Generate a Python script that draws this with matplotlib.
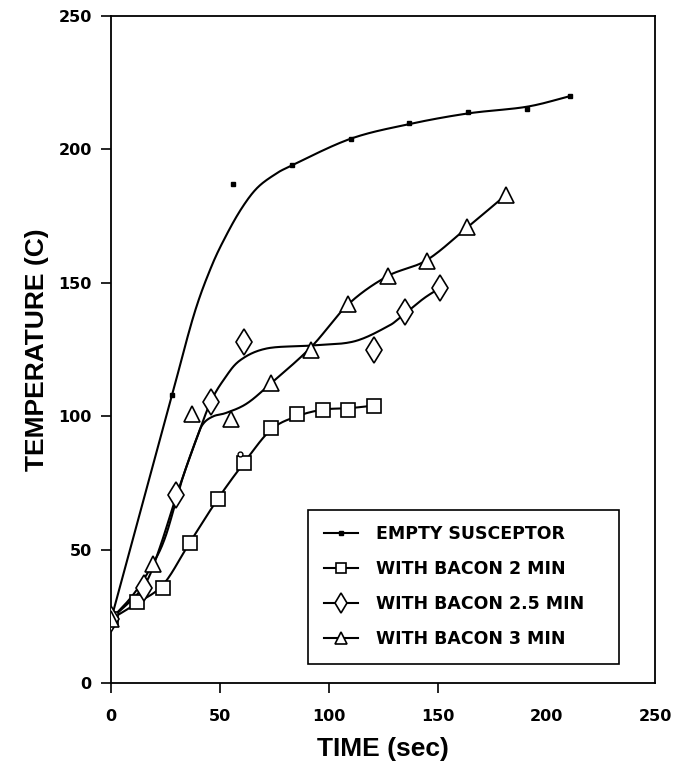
"""
Susceptor temperature vs heating time, empty and with bacon loads.
Markers are the measured points; the smooth lines are the hand-fitted curves.
"""
import numpy as np
import matplotlib
matplotlib.use('Agg')
import matplotlib.pyplot as plt

# measured points (time s, temperature C)
empty_t = [0, 28, 56, 83, 110, 137, 164, 191, 211]
empty_T = [24, 108, 187, 194, 204, 210, 214, 215, 220]
bacon2_t = [0, 12, 24, 36, 49, 61, 73.5, 85.5, 97.5, 109, 121]
bacon2_T = [24, 30.5, 35.5, 52.5, 69, 82.5, 95.5, 101, 102.5, 102.5, 104]
bacon25_t = [0, 15, 30, 46, 61, 121, 135, 151]
bacon25_T = [24, 35.5, 70.5, 105.5, 128, 125, 139, 148]
bacon3_t = [0, 19, 37, 55, 73.5, 92, 109, 127, 145, 163.5, 181.5]
bacon3_T = [24, 44.5, 101, 99, 112.5, 125, 142, 152.5, 158, 171, 183]
stray_t = [59]
stray_T = [86]

# fitted curves
empty_fit_t = [0, 18, 28, 38, 46, 53, 60, 67, 75, 83, 110, 137, 164, 191, 211]
empty_fit_T = [24, 78, 108, 138, 156, 168, 178, 185.5, 190.5, 194, 204, 209.5, 213.5, 216, 220]
bacon2_fit_t = bacon2_t
bacon2_fit_T = [24, 30, 37, 52.5, 69, 82.5, 95, 100, 102.5, 103, 104]
bacon25_fit_t = [0, 14.7, 22, 30.3, 39.4, 45.8, 52, 59.3, 71.5, 91.8, 111.4, 126.7, 132.8, 143.4, 151]
bacon25_fit_T = [24, 36, 50, 71, 92, 105.5, 114, 121, 125.4, 126.5, 128, 133.5, 137, 144, 148]
bacon3_fit_t = [0, 10, 18.7, 25, 32.5, 39.4, 42.4, 47, 53, 62.4, 73.4, 92, 109, 127, 145, 164, 181.5]
bacon3_fit_T = [24, 33, 44, 55, 76, 92, 97.3, 100, 101.3, 104.8, 112.3, 126, 142, 152.5, 158.5, 171, 183]

labels = ['EMPTY SUSCEPTOR', 'WITH BACON 2 MIN', 'WITH BACON 2.5 MIN', 'WITH BACON 3 MIN']
xticks = [0, 50, 100, 150, 200, 250]
yticks = [0, 50, 100, 150, 200, 250]


def smooth(xs, ys, n=24):
    # Catmull-Rom through the traced curve points, for drawing only
    p = np.column_stack([xs, ys]).astype(float)
    p = np.vstack([2 * p[0] - p[1], p, 2 * p[-1] - p[-2]])
    t = np.linspace(0, 1, n)[:, None]
    out = []
    for i in range(1, len(p) - 2):
        p0, p1, p2, p3 = p[i - 1], p[i], p[i + 1], p[i + 2]
        seg = 0.5 * ((2 * p1) + (-p0 + p2) * t + (2 * p0 - 5 * p1 + 4 * p2 - p3) * t ** 2
                     + (-p0 + 3 * p1 - 3 * p2 + p3) * t ** 3)
        out.append(seg if i == 1 else seg[1:])
    out = np.vstack(out)
    return out[:, 0], out[:, 1]


fig = plt.figure(figsize=(6.74, 7.64), dpi=100)
ax = fig.add_axes([0.165, 0.106, 0.807, 0.873])

lw = 1.5
mk = dict(color='black', markerfacecolor='white', markeredgecolor='black',
          markeredgewidth=1.2, linestyle='none', zorder=3)

ax.plot(*smooth(empty_fit_t, empty_fit_T), color='black', lw=lw)
ax.plot(*smooth(bacon2_fit_t, bacon2_fit_T), color='black', lw=lw)
ax.plot(*smooth(bacon25_fit_t, bacon25_fit_T), color='black', lw=lw)
ax.plot(*smooth(bacon3_fit_t, bacon3_fit_T), color='black', lw=lw)

ax.plot(empty_t, empty_T, marker='s', markersize=3.2, color='black', linestyle='none', zorder=3)
ax.plot(bacon2_t, bacon2_T, marker='s', markersize=10, **mk)
ax.plot(bacon25_t, bacon25_T, marker='d', markersize=13, **mk)
ax.plot(bacon3_t, bacon3_T, marker='^', markersize=11.5, **mk)
ax.plot(stray_t, stray_T, marker='o', markersize=3.5, color='black',
        markerfacecolor='white', linestyle='none', zorder=3)

# legend handles
h = [
    plt.Line2D([], [], color='black', lw=lw, marker='s', markersize=3.2),
    plt.Line2D([], [], color='black', lw=lw, marker='s', markersize=7.5,
               markerfacecolor='white', markeredgewidth=1.2),
    plt.Line2D([], [], color='black', lw=lw, marker='d', markersize=10,
               markerfacecolor='white', markeredgewidth=1.2),
    plt.Line2D([], [], color='black', lw=lw, marker='^', markersize=8.5,
               markerfacecolor='white', markeredgewidth=1.2),
]
leg = ax.legend(h, labels, loc='lower left', bbox_to_anchor=(0.362, 0.0285, 0.572, 0.24),
                mode='expand', frameon=True, fancybox=False, edgecolor='black',
                framealpha=1, handlelength=2.0, handletextpad=1.0, labelspacing=0.98,
                borderpad=0.9, borderaxespad=0,
                prop=dict(family='DejaVu Sans', weight='bold', size=12.5))
leg.get_frame().set_linewidth(1.2)

ax.set_xlim(0, 250)
ax.set_ylim(0, 250)
ax.set_xticks(xticks)
ax.set_yticks(yticks)
ax.set_xticklabels([str(v) for v in xticks], family='DejaVu Sans', weight='bold', fontsize=11.5)
ax.set_yticklabels([str(v) for v in yticks], family='DejaVu Sans', weight='bold', fontsize=11.5)
ax.tick_params(direction='out', length=7, width=1.2, color='black')
ax.tick_params(axis='x', pad=12)
ax.tick_params(axis='y', pad=7)
for t in ax.xaxis.get_major_ticks()[4:]:
    t.tick1line.set_visible(False)

for s in ax.spines.values():
    s.set_linewidth(1.3)

ax.set_xlabel('TIME (sec)', family='Liberation Sans', weight='bold', fontsize=19, labelpad=9)
ax.set_ylabel('TEMPERATURE (C)', family='Liberation Sans', weight='bold', fontsize=19, labelpad=7)

fig.savefig('out.png', dpi=100)
